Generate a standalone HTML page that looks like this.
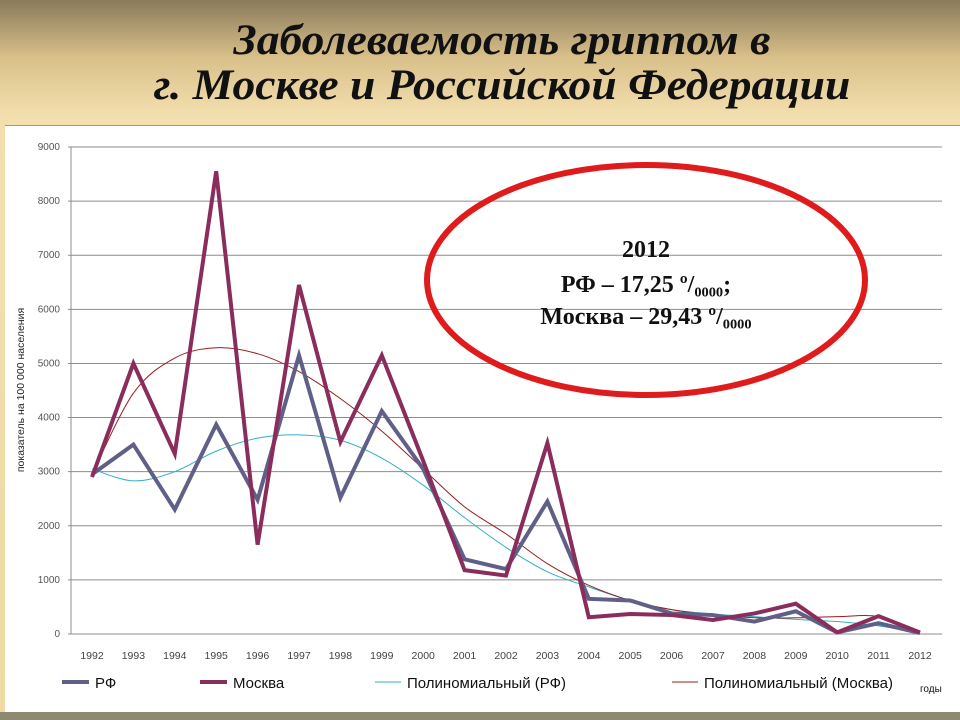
<!DOCTYPE html>
<html><head><meta charset="utf-8">
<style>
body{margin:0;width:960px;height:720px;overflow:hidden;font-family:"Liberation Sans","DejaVu Sans",sans-serif;}
#slide{position:relative;width:960px;height:720px;background:linear-gradient(180deg,#8a7a5a 0%,#d9c08a 8%,#f3dfae 16%,#efd9a4 100%);}
#title{position:absolute;left:22px;top:18px;width:960px;text-align:center;font-family:"Liberation Serif",serif;font-weight:bold;font-style:italic;font-size:43px;line-height:45px;color:#111;transform:scaleX(1.06);transform-origin:center;}
#panel{position:absolute;left:5px;top:125px;width:955px;height:588px;background:#fff;border-top:1px solid #999;}
#foot{position:absolute;left:0;top:712px;width:960px;height:8px;background:#8d8a70;}
</style></head>
<body>
<div id="slide">
<div id="title">Заболеваемость гриппом в<br>г. Москве и Российской Федерации</div>
<div id="panel"></div>
<div id="foot"></div>
<svg id="chart" width="960" height="720" style="position:absolute;left:0;top:0"></svg>
</div>
<script>
const years=[1992,1993,1994,1995,1996,1997,1998,1999,2000,2001,2002,2003,2004,2005,2006,2007,2008,2009,2010,2011,2012];
const rfValues=[2950,3500,2300,3870,2480,5150,2520,4120,3050,1380,1200,2450,650,620,380,350,230,420,30,200,17];
const moscowValues=[2900,5000,3330,8550,1650,6450,3550,5150,3200,1180,1080,3530,310,370,350,260,380,560,30,330,29];
const rfTrend=[3050,2830,3000,3380,3620,3680,3580,3250,2750,2150,1600,1150,870,620,450,370,320,270,230,150,20];
const moscowTrend=[2950,4450,5100,5290,5180,4850,4350,3750,3050,2350,1850,1300,900,620,450,350,300,300,320,320,50];
const yTicks=[0,1000,2000,3000,4000,5000,6000,7000,8000,9000];

const svg=document.getElementById('chart');
const NS='http://www.w3.org/2000/svg';
const x0=92,x1=920,yb=634,yt=147,ymax=9000;
const xS=i=>x0+(x1-x0)*i/(years.length-1);
const yS=v=>yb-(yb-yt)*v/ymax;
function mk(tag,attrs,parent){const e=document.createElementNS(NS,tag);for(const k in attrs)e.setAttribute(k,attrs[k]);(parent||svg).appendChild(e);return e;}

yTicks.forEach(v=>{
  const l=mk('line',{x1:68,x2:942,y1:yS(v),y2:yS(v),stroke:'#8c8c8c','stroke-width':1});
  
  
  const t=mk('text',{x:60,y:yS(v)+3,'text-anchor':'end','font-size':10,fill:'#555'});
  t.textContent=v;
  
  
});
const ax=mk('line',{x1:71,x2:71,y1:yt,y2:yb,stroke:'#8c8c8c'});


years.forEach((yv,i)=>{
  const t=mk('text',{x:xS(i),y:659,'text-anchor':'middle','font-size':10.5,fill:'#444'});
  t.textContent=yv;
  
  
});
const yt2=mk('text',{x:0,y:0,transform:'translate(24,390) rotate(-90)','text-anchor':'middle','font-size':10.5,fill:'#222'});
yt2.textContent='показатель на 100 000 населения';



function smooth(vals){
  const p=vals.map((v,i)=>[xS(i),yS(v)]);
  let d='M'+p[0][0]+','+p[0][1];
  for(let i=0;i<p.length-1;i++){
    const a=p[i-1]||p[i],b=p[i],c=p[i+1],e=p[i+2]||c;
    d+=' C'+(b[0]+(c[0]-a[0])/6)+','+(b[1]+(c[1]-a[1])/6)+' '+(c[0]-(e[0]-b[0])/6)+','+(c[1]-(e[1]-b[1])/6)+' '+c[0]+','+c[1];
  }
  return d;
}
function poly(vals){return vals.map((v,i)=>xS(i)+','+yS(v)).join(' ');}

const tr1=mk('path',{d:smooth(rfTrend),fill:'none',stroke:'#2fb3c0','stroke-width':1});


const tr2=mk('path',{d:smooth(moscowTrend),fill:'none',stroke:'#9b1c1c','stroke-width':1});


const l1=mk('polyline',{points:poly(rfValues),fill:'none',stroke:'#5f5f87','stroke-width':4,'stroke-linejoin':'miter'});


const l2=mk('polyline',{points:poly(moscowValues),fill:'none',stroke:'#8a2c5c','stroke-width':4,'stroke-linejoin':'miter'});



const legend=[['РФ','#5f5f87',4,62,95],['Москва','#8a2c5c',4,200,233],['Полиномиальный (РФ)','#2fb3c0',1,375,407],['Полиномиальный (Москва)','#9b1c1c',1,672,704]];
legend.forEach(g=>{
  const l=mk('line',{x1:g[3],x2:g[4]-6,y1:682,y2:682,stroke:g[1],'stroke-width':g[2]});
  
  
  const t=mk('text',{x:g[4],y:688,'font-size':15,fill:'#111'});
  t.textContent=g[0];
  
  
});
const gt=mk('text',{x:920,y:692,'font-size':10,fill:'#111'});
gt.textContent='годы';



const el=mk('ellipse',{cx:646,cy:280,rx:219,ry:115,fill:'none',stroke:'#e01b1b','stroke-width':6});


[['2012',257],['РФ – 17,25 º/₀₀₀₀;',292],['Москва – 29,43 º/₀₀₀₀',324]].forEach(a=>{
  const t=mk('text',{x:646,y:a[1],'text-anchor':'middle','font-size':24,'font-weight':'bold','font-family':'Liberation Serif, serif',fill:'#111'});
  t.textContent=a[0];
  
  
});
</script>
</body></html>
